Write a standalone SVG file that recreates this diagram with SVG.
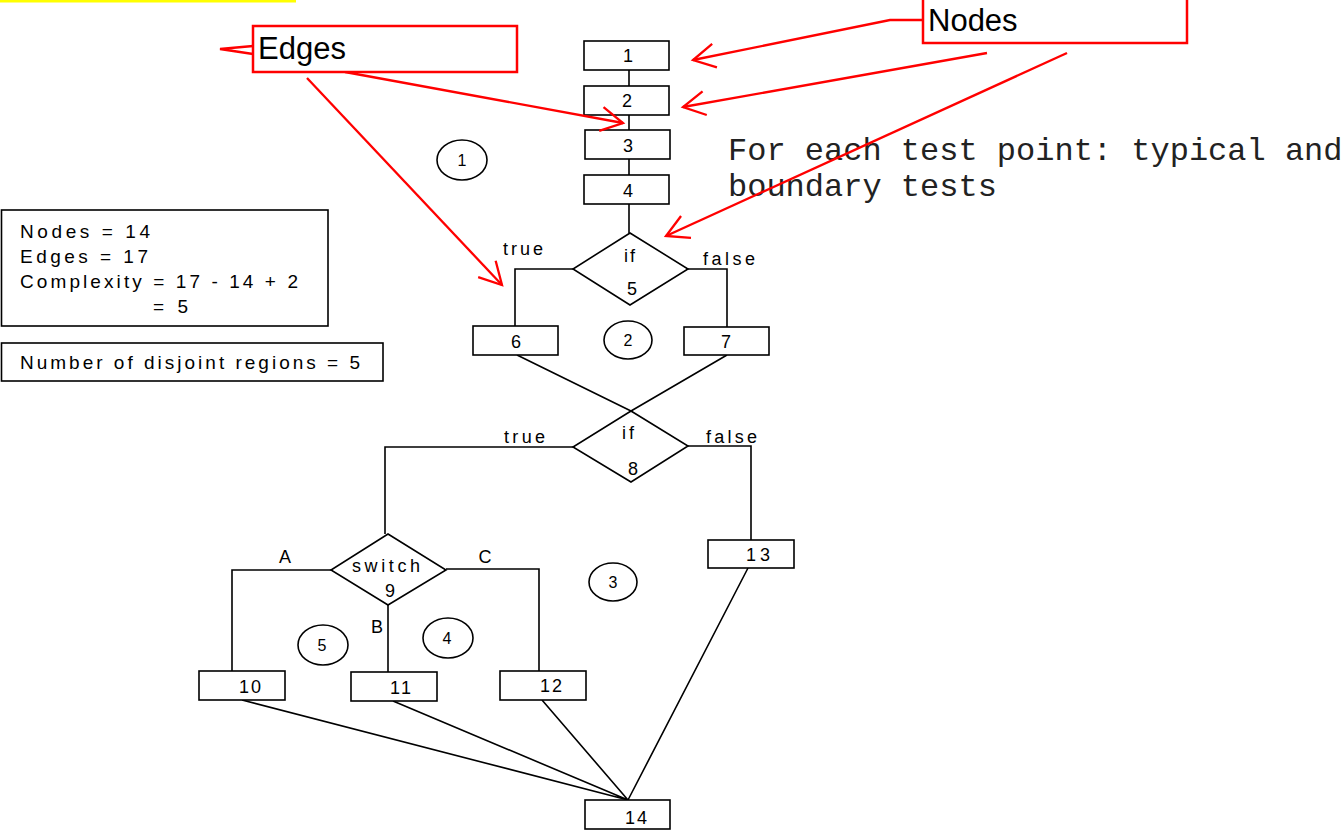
<svg xmlns="http://www.w3.org/2000/svg" width="1343" height="830" viewBox="0 0 1343 830">
<style>
.bx{fill:#fff;stroke:#000;stroke-width:1.6}
.ln{fill:none;stroke:#000;stroke-width:1.6}
.rd{fill:none;stroke:#f00;stroke-width:2.3}
.rbox{fill:#fff;stroke:#f00;stroke-width:2.5}
.t{font-family:"Liberation Sans",Arial,sans-serif;font-size:18px;fill:#000}
.info{font-size:19px}
.rg{font-size:16px}
.c{text-anchor:middle}
.big{font-family:"Liberation Sans",Arial,sans-serif;font-size:31px;fill:#000}
.mono{font-family:"Liberation Mono","Courier New",monospace;font-size:32px;fill:#222}
</style>
<defs>
<marker id="ah" markerUnits="userSpaceOnUse" markerWidth="30" markerHeight="30" refX="24" refY="13" orient="auto" overflow="visible">
<path d="M2,1 L24,13 L2,25" fill="none" stroke="#f00" stroke-width="2.3"/>
</marker>
</defs>
<rect x="-5" y="-10" width="301" height="12.5" fill="#ffff00"/>

<g id="connectors">
<path class="ln" d="M629,70V86 M629,115V130 M629,159V175 M629,204V233"/>
<path class="ln" d="M573,269H515V326"/>
<path class="ln" d="M688,269H727V327"/>
<path class="ln" d="M517,355L631,411 M727,355L631,411"/>
<path class="ln" d="M573,447H385V534"/>
<path class="ln" d="M688,446H751V540"/>
<path class="ln" d="M331,570H232V671"/>
<path class="ln" d="M446,569H539V671"/>
<path class="ln" d="M388,605V672"/>
<path class="ln" d="M242,700L628,800 M393,701L628,800 M542,700L628,800 M748,568L628,800"/>
</g>

<g id="n1"><rect class="bx" x="584" y="41" width="85" height="29"/><text class="t c" x="628" y="62">1</text></g>
<g id="n2"><rect class="bx" x="584" y="86" width="85" height="29"/><text class="t c" x="627" y="107">2</text></g>
<g id="n3"><rect class="bx" x="585" y="130" width="85" height="29"/><text class="t c" x="628" y="152">3</text></g>
<g id="n4"><rect class="bx" x="584" y="175" width="85" height="29"/><text class="t c" x="628" y="197">4</text></g>
<g id="n5"><polygon class="bx" points="630,233 688,269 630,305 573,269"/><text class="t" x="624" y="262" textLength="11">if</text><text class="t c" x="632" y="295">5</text></g>
<g id="n6"><rect class="bx" x="473" y="326" width="85" height="29"/><text class="t c" x="516" y="348">6</text></g>
<g id="n7"><rect class="bx" x="684" y="327" width="85" height="28"/><text class="t c" x="726" y="348">7</text></g>
<g id="n8"><polygon class="bx" points="631,411 688,446 631,482 573,447"/><text class="t" x="622" y="439" textLength="12">if</text><text class="t c" x="633" y="475">8</text></g>
<g id="n9"><polygon class="bx" points="388,534 446,570 388,605 331,570"/><text class="t" x="352" y="572" textLength="68">switch</text><text class="t c" x="390" y="597">9</text></g>
<g id="n10"><rect class="bx" x="199" y="671" width="86" height="29"/><text class="t" x="239" y="693" textLength="22">10</text></g>
<g id="n11"><rect class="bx" x="351" y="672" width="86" height="29"/><text class="t" x="390" y="694" textLength="21">11</text></g>
<g id="n12"><rect class="bx" x="500" y="671" width="86" height="29"/><text class="t" x="540" y="692" textLength="22">12</text></g>
<g id="n13"><rect class="bx" x="708" y="540" width="86" height="28"/><text class="t" x="746" y="561" textLength="24">13</text></g>
<g id="n14"><rect class="bx" x="585" y="800" width="85" height="29"/><text class="t" x="625" y="824" textLength="22">14</text></g>

<g id="edge-labels">
<text class="t" x="503" y="255" textLength="40">true</text>
<text class="t" x="703" y="265" textLength="52">false</text>
<text class="t" x="504" y="443" textLength="41">true</text>
<text class="t" x="706" y="443" textLength="51">false</text>
<text class="t c" x="285" y="563">A</text>
<text class="t c" x="377" y="633">B</text>
<text class="t c" x="485" y="563">C</text>
</g>

<g id="regions">
<ellipse class="ln" cx="462" cy="160" rx="25" ry="20"/><text class="t c rg" x="462" y="166">1</text>
<ellipse class="ln" cx="628" cy="340" rx="24" ry="19"/><text class="t c rg" x="628" y="346">2</text>
<ellipse class="ln" cx="613" cy="582" rx="24" ry="19"/><text class="t c rg" x="613" y="588">3</text>
<ellipse class="ln" cx="448" cy="638" rx="25" ry="20"/><text class="t c rg" x="447" y="644">4</text>
<ellipse class="ln" cx="323" cy="645" rx="25" ry="20"/><text class="t c rg" x="322" y="651">5</text>
</g>

<g id="info">
<rect class="bx" x="1.5" y="210" width="326.5" height="116"/>
<text class="t info" x="20" y="238" textLength="130">Nodes = 14</text>
<text class="t info" x="20" y="263" textLength="128">Edges = 17</text>
<text class="t info" x="20" y="288" textLength="278">Complexity = 17 - 14 + 2</text>
<text class="t info" x="153" y="313" textLength="35">= 5</text>
</g>
<g id="regions-count">
<rect class="bx" x="1.5" y="343" width="381.5" height="38"/>
<text class="t info" x="20" y="369" textLength="340">Number of disjoint regions = 5</text>
</g>

<g id="note">
<text class="mono" x="728" y="160">For each test point: typical and</text>
<text class="mono" x="728" y="196">boundary tests</text>
</g>

<g id="callout-edges">
<polyline class="rd" points="253,46 220,49 253,54"/>
<path class="rd" d="M345,72L623,123" marker-end="url(#ah)"/>
<path class="rd" d="M307,78L502,285" marker-end="url(#ah)"/>
<rect class="rbox" x="253" y="26" width="264" height="46"/>
<text class="big" x="258" y="59">Edges</text>
</g>

<g id="callout-nodes">
<path class="rd" d="M922,20H890L693,60" marker-end="url(#ah)"/>
<path class="rd" d="M987,53L683,107" marker-end="url(#ah)"/>
<path class="rd" d="M1067,53L666,236" marker-end="url(#ah)"/>
<rect class="rbox" x="923" y="-5" width="264" height="48"/>
<text class="big" x="928" y="31">Nodes</text>
</g>
</svg>
